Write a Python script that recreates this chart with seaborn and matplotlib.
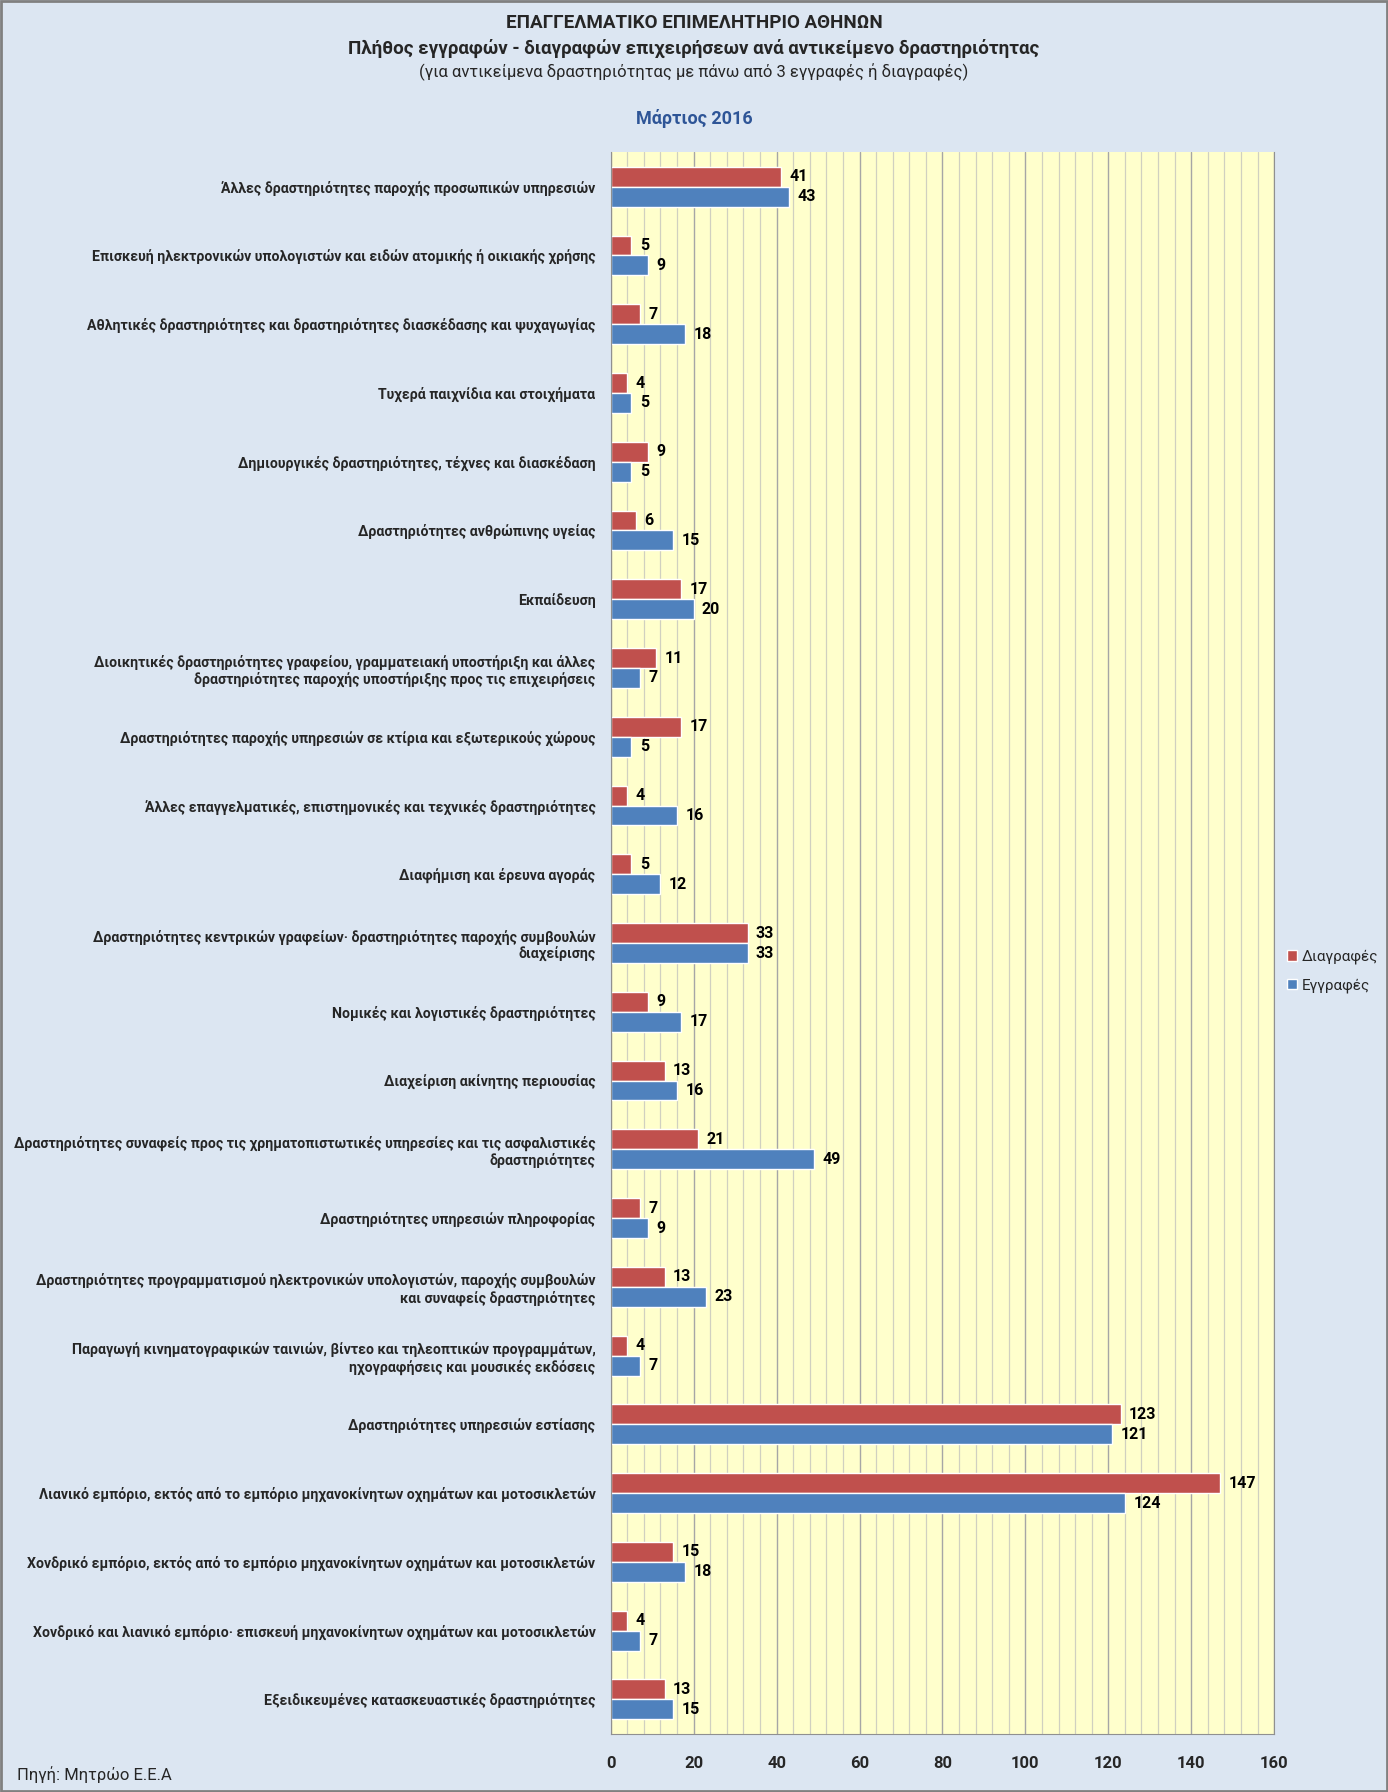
import matplotlib
matplotlib.use("Agg")
import matplotlib.pyplot as plt
from matplotlib.patches import Rectangle
from matplotlib.ticker import MultipleLocator, FixedLocator
import seaborn as sns
import pandas as pd

categories = [
    "Άλλες δραστηριότητες παροχής προσωπικών υπηρεσιών",
    "Επισκευή ηλεκτρονικών υπολογιστών και ειδών ατομικής ή οικιακής χρήσης",
    "Αθλητικές δραστηριότητες και δραστηριότητες διασκέδασης και ψυχαγωγίας",
    "Τυχερά παιχνίδια και στοιχήματα",
    "Δημιουργικές δραστηριότητες, τέχνες και διασκέδαση",
    "Δραστηριότητες ανθρώπινης υγείας",
    "Εκπαίδευση",
    "Διοικητικές δραστηριότητες γραφείου, γραμματειακή υποστήριξη και άλλες\nδραστηριότητες παροχής υποστήριξης προς τις επιχειρήσεις",
    "Δραστηριότητες παροχής υπηρεσιών σε κτίρια και εξωτερικούς χώρους",
    "Άλλες επαγγελματικές, επιστημονικές και τεχνικές δραστηριότητες",
    "Διαφήμιση και έρευνα αγοράς",
    "Δραστηριότητες κεντρικών γραφείων· δραστηριότητες παροχής συμβουλών\nδιαχείρισης",
    "Νομικές και λογιστικές δραστηριότητες",
    "Διαχείριση ακίνητης περιουσίας",
    "Δραστηριότητες συναφείς προς τις χρηματοπιστωτικές υπηρεσίες και τις ασφαλιστικές\nδραστηριότητες",
    "Δραστηριότητες υπηρεσιών πληροφορίας",
    "Δραστηριότητες προγραμματισμού ηλεκτρονικών υπολογιστών, παροχής συμβουλών\nκαι συναφείς δραστηριότητες",
    "Παραγωγή κινηματογραφικών ταινιών, βίντεο και τηλεοπτικών προγραμμάτων,\nηχογραφήσεις και μουσικές εκδόσεις",
    "Δραστηριότητες υπηρεσιών εστίασης",
    "Λιανικό εμπόριο, εκτός από το εμπόριο μηχανοκίνητων οχημάτων και μοτοσικλετών",
    "Χονδρικό εμπόριο, εκτός από το εμπόριο μηχανοκίνητων οχημάτων και μοτοσικλετών",
    "Χονδρικό και λιανικό εμπόριο· επισκευή μηχανοκίνητων οχημάτων και μοτοσικλετών",
    "Εξειδικευμένες κατασκευαστικές δραστηριότητες",
]
diagrafes = [41, 5, 7, 4, 9, 6, 17, 11, 17, 4, 5, 33, 9, 13, 21, 7, 13, 4, 123, 147, 15, 4, 13]
eggrafes = [43, 9, 18, 5, 5, 15, 20, 7, 5, 16, 12, 33, 17, 16, 49, 9, 23, 7, 121, 124, 18, 7, 15]
series_names = ["Διαγραφές", "Εγγραφές"]
colors = ["#C0504D", "#4F81BD"]

sns.set_style("white")
plt.rcParams["font.family"] = ["Roboto", "DejaVu Sans"]

df = pd.DataFrame({
    "category": categories * 2,
    "value": diagrafes + eggrafes,
    "series": [series_names[0]] * len(categories) + [series_names[1]] * len(categories),
})

bg = "#DCE6F2"
fig = plt.figure(figsize=(13.88, 17.92), dpi=100, facecolor=bg)
ax = fig.add_axes([0.440, 0.0325, 0.478, 0.8825])
ax.set_facecolor("#FFFFCC")

sns.barplot(data=df, x="value", y="category", hue="series", hue_order=series_names,
            palette=colors, orient="h", width=0.58, ax=ax, legend=True, saturation=1)

for c in ax.containers:
    ax.bar_label(c, fmt="%d", padding=6, fontsize=11.5, fontweight="bold", color="black")

ax.set_xlim(0, 160)
ax.set_ylim(len(categories) - 0.5, -0.5)
ax.xaxis.set_major_locator(MultipleLocator(20))
ax.xaxis.set_minor_locator(MultipleLocator(4))
ax.grid(which="major", axis="x", color="#A6A6A6", linewidth=1.0)
ax.grid(which="minor", axis="x", color="#D0D0C0", linewidth=0.9)
ax.set_axisbelow(True)

ax.yaxis.set_minor_locator(FixedLocator([i + 0.5 for i in range(-1, len(categories))]))
ax.tick_params(axis="y", which="major", length=0, pad=11, labelsize=10.2)
ax.tick_params(axis="y", which="minor", length=6, color="#909090")
ax.tick_params(axis="x", which="both", length=6, color="#909090", direction="out", labelsize=12, pad=10)
for lab in ax.get_yticklabels():
    lab.set_fontweight("bold")
    lab.set_horizontalalignment("right")
for lab in ax.get_xticklabels():
    lab.set_fontweight("bold")

for side in ["left", "bottom", "right"]:
    ax.spines[side].set_color("#909090")
ax.spines["top"].set_visible(False)
ax.set_xlabel("")
ax.set_ylabel("")

handles, labels = ax.get_legend_handles_labels()
ax.get_legend().remove()
fig.legend(handles, labels, loc="center left", bbox_to_anchor=(0.917, 0.458), frameon=False,
           fontsize=11, handlelength=0.7, handleheight=0.7, labelspacing=0.9, handletextpad=0.3)

fig.text(0.5, 0.987, "ΕΠΑΓΓΕΛΜΑΤΙΚΟ ΕΠΙΜΕΛΗΤΗΡΙΟ ΑΘΗΝΩΝ", ha="center", va="center",
         fontsize=13.5, fontweight="bold")
fig.text(0.5, 0.973, "Πλήθος εγγραφών - διαγραφών επιχειρήσεων ανά αντικείμενο δραστηριότητας",
         ha="center", va="center", fontsize=13.5, fontweight="bold")
fig.text(0.5, 0.960, "(για αντικείμενα δραστηριότητας με πάνω από 3 εγγραφές ή διαγραφές)",
         ha="center", va="center", fontsize=12)
fig.text(0.5, 0.934, "Μάρτιος 2016", ha="center", va="center", fontsize=13,
         fontweight="bold", color="#2E5597")
fig.text(0.012, 0.0095, "Πηγή: Μητρώο Ε.Ε.Α", ha="left", va="center", fontsize=12)

fig.patches.append(Rectangle((0.0008, 0.0008), 0.9984, 0.9984, transform=fig.transFigure,
                             fill=False, edgecolor="#808080", linewidth=2))

fig.savefig("out.png", dpi=100, facecolor=bg)
